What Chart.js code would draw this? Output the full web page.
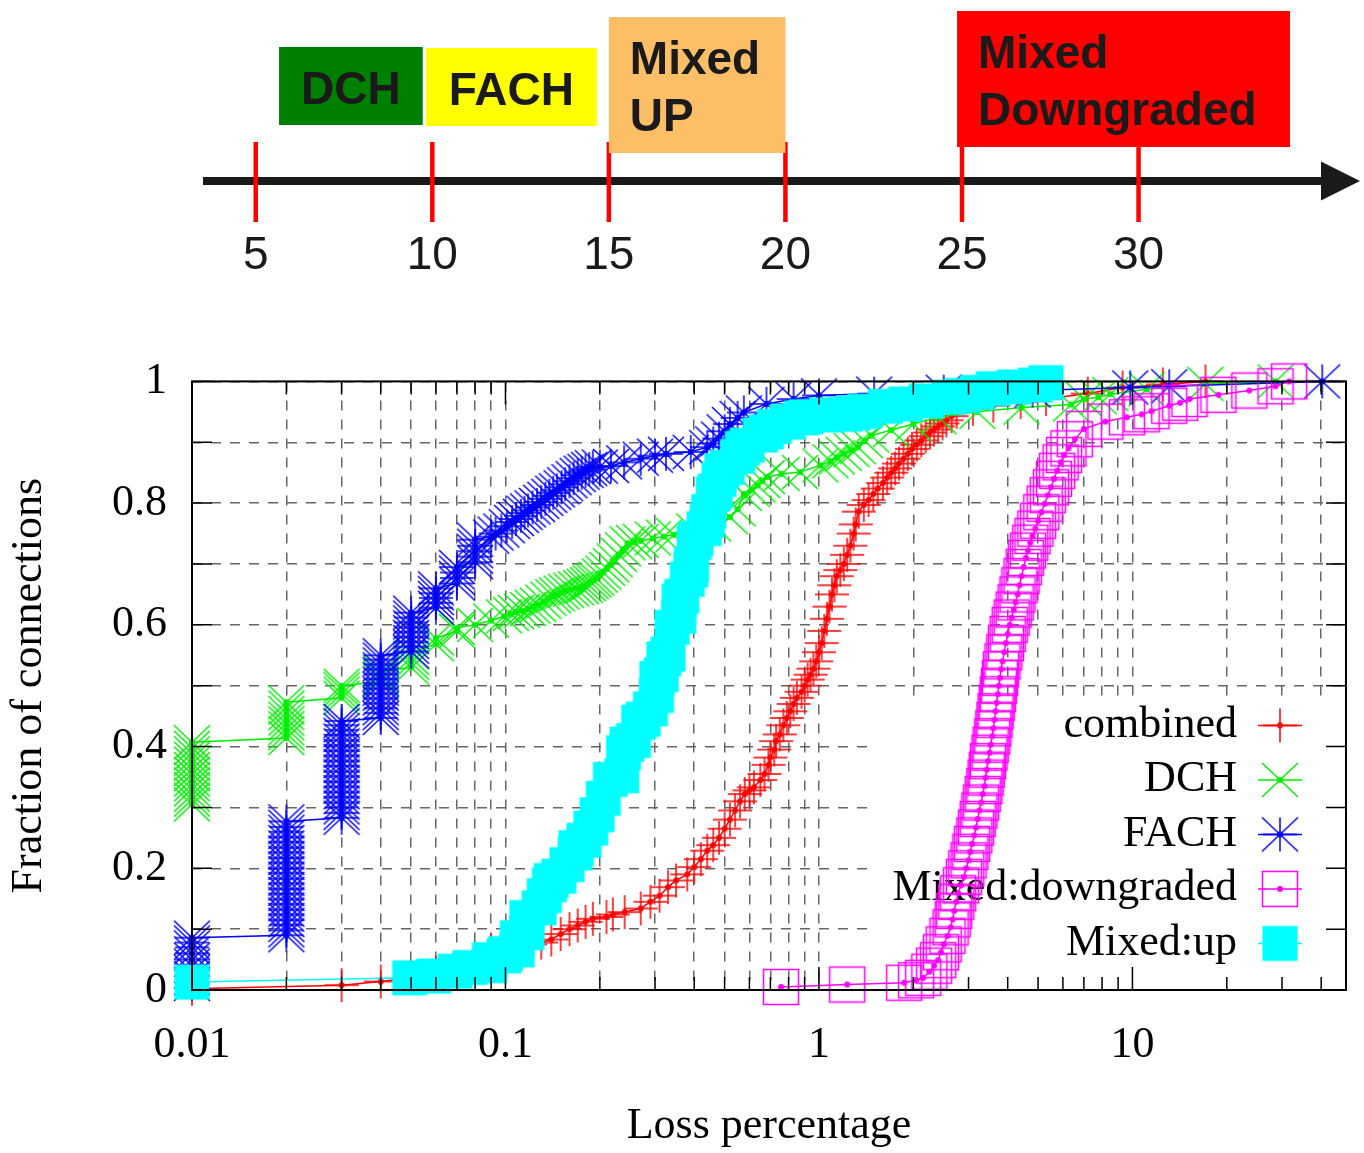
<!DOCTYPE html>
<html>
<head>
<meta charset="utf-8">
<title>Loss percentage CDF</title>
<script src="https://cdn.jsdelivr.net/npm/chart.js@4.4.1/dist/chart.umd.min.js"></script>
<style>
  html, body { margin: 0; padding: 0; background: #fff; }
  #wrap { position: relative; width: 1364px; height: 1153px; }
  #timeline { position: absolute; left: 0; top: 0; }
  #cdf { position: absolute; left: 0; top: 330px; }
</style>
</head>
<body>
<div id="wrap">
  <canvas id="timeline" width="1364" height="330"></canvas>
  <canvas id="cdf" width="1364" height="823"></canvas>
</div>
<script>
// --- timeline (upper drawing) ---
const timelineTicks = [5, 10, 15, 20, 25, 30];
const timelineTickLabels = ['5', '10', '15', '20', '25', '30'];
const stateNames = [['DCH'], ['FACH'], ['Mixed', 'UP'], ['Mixed', 'Downgraded']];
const stateStart = [5.66, 9.82, 15.0, 24.86];
const stateEnd = [9.73, 14.66, 20.0, 34.29];

// --- CDF of loss percentage ---
const seriesNames = ['combined', 'DCH', 'FACH', 'Mixed:downgraded', 'Mixed:up'];

const combinedLoss = [
  0.01, 0.03, 0.04, 0.05, 0.06, 0.07, 0.08, 0.09, 0.1, 0.11,
  0.12, 0.13, 0.14, 0.15, 0.16, 0.17, 0.18, 0.19, 0.21, 0.22,
  0.24, 0.27, 0.29, 0.31, 0.33, 0.35, 0.38, 0.4, 0.42, 0.44,
  0.46, 0.48, 0.5, 0.52, 0.54, 0.56, 0.58, 0.6, 0.62, 0.65,
  0.67, 0.69, 0.7, 0.72, 0.73, 0.75, 0.77, 0.79, 0.81, 0.83,
  0.85, 0.88, 0.9, 0.92, 0.94, 0.96, 0.98, 1.0, 1.02, 1.04,
  1.06, 1.08, 1.1, 1.12, 1.14, 1.17, 1.2, 1.23, 1.26, 1.29,
  1.31, 1.34, 1.39, 1.44, 1.49, 1.54, 1.6, 1.65, 1.7, 1.75,
  1.8, 1.86, 1.92, 1.98, 2.05, 2.12, 2.19, 2.26, 2.33, 2.4,
  2.48, 2.55, 2.65, 2.75, 3.1, 3.6, 4.4, 5.3, 7.2, 9.3,
  12.5, 17.1];
const combinedFrac = [
  0.002, 0.008, 0.014, 0.02, 0.028, 0.037, 0.05, 0.065, 0.07, 0.072,
  0.075, 0.078, 0.083, 0.092, 0.1, 0.106, 0.112, 0.117, 0.12, 0.124,
  0.128, 0.134, 0.145, 0.155, 0.169, 0.18, 0.19, 0.202, 0.215, 0.229,
  0.238, 0.25, 0.265, 0.28, 0.295, 0.31, 0.322, 0.328, 0.333, 0.345,
  0.355, 0.37, 0.382, 0.395, 0.409, 0.42, 0.435, 0.447, 0.458, 0.47,
  0.48, 0.49, 0.5, 0.51, 0.518, 0.528, 0.54, 0.555, 0.57, 0.59,
  0.61, 0.63, 0.65, 0.665, 0.68, 0.69, 0.7, 0.715, 0.73, 0.75,
  0.765, 0.786, 0.797, 0.805, 0.815, 0.824, 0.833, 0.842, 0.85, 0.857,
  0.865, 0.873, 0.881, 0.889, 0.896, 0.903, 0.91, 0.916, 0.921, 0.926,
  0.931, 0.936, 0.943, 0.95, 0.955, 0.96, 0.966, 0.971, 0.98, 0.99,
  0.995, 1.0];

const dchLoss = [
  0.01, 0.01, 0.01, 0.01, 0.01, 0.01, 0.01, 0.01, 0.01, 0.01, 0.01, 0.01, 0.01,
  0.02, 0.02, 0.02, 0.02, 0.02, 0.02, 0.02, 0.02,
  0.03, 0.03, 0.03, 0.03, 0.04, 0.04, 0.04, 0.05, 0.05, 0.05, 0.05,
  0.06, 0.06, 0.07, 0.07, 0.08, 0.09,
  0.099, 0.104, 0.108, 0.113, 0.118, 0.122, 0.127, 0.132, 0.137, 0.142,
  0.146, 0.151, 0.156, 0.162, 0.168, 0.174, 0.179, 0.183, 0.187, 0.191,
  0.195, 0.2, 0.205, 0.211, 0.217, 0.223, 0.23, 0.237, 0.245, 0.257,
  0.27, 0.295, 0.32, 0.344, 0.4, 0.46, 0.52, 0.55, 0.576, 0.61,
  0.637, 0.66, 0.682, 0.76, 0.87, 1.01, 1.087, 1.14, 1.2, 1.27,
  1.33, 1.4, 1.47, 1.7, 2.0, 2.41, 3.2, 4.43, 6.37, 7.0,
  7.8, 8.5, 11.1, 17.1, 28.6];
const dchFrac = [
  0.305, 0.313, 0.321, 0.33, 0.338, 0.346, 0.355, 0.363, 0.372, 0.38, 0.389, 0.398, 0.407,
  0.414, 0.422, 0.43, 0.438, 0.446, 0.455, 0.464, 0.473,
  0.48, 0.487, 0.494, 0.5, 0.507, 0.515, 0.523, 0.53, 0.538, 0.546, 0.555,
  0.568, 0.578, 0.59, 0.595, 0.6, 0.607,
  0.614, 0.618, 0.621, 0.623, 0.626, 0.63, 0.633, 0.638, 0.643, 0.647,
  0.65, 0.653, 0.656, 0.658, 0.66, 0.662, 0.664, 0.667, 0.67, 0.673,
  0.676, 0.681, 0.686, 0.692, 0.698, 0.706, 0.715, 0.724, 0.734, 0.736,
  0.738, 0.742, 0.745, 0.748, 0.755, 0.765, 0.777, 0.79, 0.815, 0.822,
  0.829, 0.836, 0.843, 0.848, 0.851, 0.862, 0.869, 0.875, 0.881, 0.887,
  0.892, 0.902, 0.911, 0.92, 0.93, 0.941, 0.95, 0.957, 0.962, 0.971,
  0.974, 0.979, 0.987, 0.996, 1.0];

const fachLoss = [
  0.01, 0.01, 0.01, 0.01, 0.01, 0.01, 0.01, 0.01, 0.01,
  0.02, 0.02, 0.02, 0.02, 0.02, 0.02, 0.02, 0.02, 0.02, 0.02, 0.02, 0.02,
  0.02, 0.02, 0.02, 0.02, 0.02, 0.02, 0.02, 0.02, 0.02, 0.02, 0.02,
  0.03, 0.03, 0.03, 0.03, 0.03, 0.03, 0.03, 0.03, 0.03, 0.03,
  0.03, 0.03, 0.03, 0.03, 0.03, 0.03, 0.03, 0.03, 0.03, 0.03,
  0.04, 0.04, 0.04, 0.04, 0.04, 0.04, 0.04, 0.04, 0.04, 0.04, 0.04, 0.04, 0.04, 0.04,
  0.05, 0.05, 0.05, 0.05, 0.05, 0.05, 0.05, 0.05, 0.05,
  0.06, 0.06, 0.06, 0.06, 0.06, 0.07, 0.07, 0.07, 0.07,
  0.08, 0.08, 0.08, 0.08, 0.08,
  0.09, 0.093, 0.097, 0.101, 0.105, 0.108, 0.112, 0.115, 0.118, 0.122,
  0.126, 0.13, 0.134, 0.138, 0.142, 0.146, 0.151, 0.155, 0.16, 0.165,
  0.17, 0.175, 0.18, 0.185, 0.19,
  0.2, 0.217, 0.239, 0.27, 0.3, 0.325, 0.39, 0.44, 0.46, 0.48,
  0.5, 0.52, 0.55, 0.576, 0.68, 0.83, 1.0, 1.5, 2.5, 4.8,
  9.84, 13.1, 40.3];
const fachFrac = [
  0.01, 0.02, 0.03, 0.04, 0.05, 0.06, 0.07, 0.078, 0.086,
  0.09, 0.098, 0.107, 0.115, 0.124, 0.132, 0.141, 0.149, 0.158, 0.166, 0.175, 0.183,
  0.192, 0.2, 0.209, 0.217, 0.226, 0.234, 0.243, 0.251, 0.26, 0.268, 0.277,
  0.283, 0.291, 0.3, 0.308, 0.317, 0.325, 0.334, 0.342, 0.351, 0.359,
  0.368, 0.376, 0.385, 0.393, 0.402, 0.41, 0.419, 0.427, 0.435, 0.442,
  0.447, 0.455, 0.463, 0.471, 0.479, 0.487, 0.495, 0.503, 0.511, 0.519, 0.527, 0.535, 0.543, 0.55,
  0.556, 0.564, 0.572, 0.58, 0.588, 0.596, 0.604, 0.612, 0.62,
  0.628, 0.636, 0.644, 0.652, 0.66, 0.668, 0.677, 0.686, 0.695,
  0.703, 0.712, 0.721, 0.73, 0.74,
  0.745, 0.75, 0.755, 0.762, 0.769, 0.774, 0.779, 0.784, 0.788, 0.793,
  0.797, 0.802, 0.807, 0.812, 0.817, 0.821, 0.826, 0.831, 0.836, 0.841,
  0.846, 0.85, 0.853, 0.856, 0.859,
  0.86, 0.861, 0.867, 0.873, 0.878, 0.881, 0.884, 0.892, 0.898, 0.906,
  0.918, 0.93, 0.94, 0.949, 0.963, 0.971, 0.977, 0.98, 0.983, 0.985,
  0.99, 0.992, 1.0];

const downLoss = [
  0.757, 1.23, 1.87, 2.04, 2.15, 2.25, 2.33, 2.4, 2.45, 2.5,
  2.57, 2.63, 2.67, 2.7, 2.74, 2.78, 2.84, 2.9, 2.95, 3.0,
  3.04, 3.08, 3.13, 3.17, 3.21, 3.25, 3.29, 3.33, 3.37, 3.4,
  3.43, 3.46, 3.5, 3.53, 3.57, 3.6, 3.63, 3.66, 3.69, 3.72,
  3.75, 3.78, 3.81, 3.85, 3.9, 3.95, 4.0, 4.06, 4.12, 4.18,
  4.24, 4.3, 4.36, 4.43, 4.5, 4.57, 4.64, 4.72, 4.8, 4.9,
  5.0, 5.12, 5.25, 5.37, 5.5, 5.62, 5.75, 5.9, 6.05, 6.25,
  6.55, 7.0, 8.2, 9.6, 10.7, 11.5, 13.1, 14.2, 15.2, 18.8,
  23.6, 28.6, 31.6];
const downFrac = [
  0.005, 0.009, 0.012, 0.016, 0.02, 0.03, 0.04, 0.049, 0.062, 0.075,
  0.089, 0.103, 0.116, 0.13, 0.145, 0.159, 0.172, 0.186, 0.2, 0.213,
  0.227, 0.24, 0.254, 0.267, 0.281, 0.295, 0.308, 0.322, 0.335, 0.349,
  0.362, 0.376, 0.39, 0.403, 0.417, 0.43, 0.444, 0.458, 0.472, 0.486,
  0.5, 0.513, 0.527, 0.54, 0.555, 0.57, 0.585, 0.6, 0.612, 0.625,
  0.637, 0.65, 0.665, 0.68, 0.695, 0.71, 0.722, 0.735, 0.746, 0.758,
  0.771, 0.785, 0.799, 0.813, 0.826, 0.84, 0.853, 0.867, 0.879, 0.89,
  0.905, 0.922, 0.934, 0.941, 0.946, 0.951, 0.96, 0.965, 0.971, 0.978,
  0.985, 0.992, 1.0];

const upLoss = [
  0.01, 0.0495, 0.059, 0.069, 0.077, 0.089, 0.089, 0.099, 0.1, 0.109,
  0.109, 0.117, 0.117, 0.128, 0.133, 0.138, 0.14, 0.148, 0.157, 0.167,
  0.168, 0.178, 0.187, 0.196, 0.205, 0.216, 0.235, 0.238, 0.244, 0.256,
  0.266, 0.275, 0.29, 0.303, 0.304, 0.314, 0.32, 0.33, 0.34, 0.357,
  0.358, 0.365, 0.38, 0.39, 0.392, 0.4, 0.405, 0.43, 0.44, 0.445,
  0.46, 0.467, 0.48, 0.49, 0.51, 0.55, 0.57, 0.59, 0.65, 0.68,
  0.72, 0.79, 0.8, 0.88, 0.91, 1.06, 1.21, 1.29, 1.4, 1.63,
  1.89, 2.2, 2.6, 2.88, 3.2, 3.6, 4.2, 4.9, 5.3];
const upFrac = [
  0.013, 0.02, 0.023, 0.031, 0.037, 0.04, 0.05, 0.056, 0.06, 0.066,
  0.086, 0.094, 0.119, 0.135, 0.155, 0.173, 0.18, 0.187, 0.206, 0.225,
  0.234, 0.246, 0.266, 0.288, 0.315, 0.346, 0.352, 0.39, 0.404, 0.41,
  0.44, 0.445, 0.462, 0.484, 0.512, 0.518, 0.544, 0.552, 0.596, 0.614,
  0.639, 0.647, 0.675, 0.69, 0.7, 0.735, 0.742, 0.758, 0.772, 0.786,
  0.815, 0.82, 0.839, 0.853, 0.859, 0.877, 0.89, 0.895, 0.912, 0.917,
  0.926, 0.933, 0.935, 0.94, 0.942, 0.945, 0.946, 0.948, 0.951, 0.959,
  0.963, 0.968, 0.974, 0.977, 0.982, 0.988, 0.991, 0.994, 0.998];

const xTickLabels = ['0.01', '0.1', '1', '10'];
const yTickLabels = ['0', '0.2', '0.4', '0.6', '0.8', '1'];

// ---------------------------------------------------------------
const SANS = '"Liberation Sans", Arial, sans-serif';
const SERIF = '"Liberation Serif", "Times New Roman", serif';

const toPoints = (xs, ys) => xs.map((v, i) => ({ x: v, y: ys[i] }));

// gnuplot-like point symbols, each with the little dot in the middle
function makeMarker(shape, color) {
  const c = document.createElement('canvas');
  c.width = 40; c.height = 40;
  const g = c.getContext('2d');
  const m = 20;
  g.strokeStyle = color;
  g.fillStyle = color;
  g.lineWidth = 1.5;
  if (shape === 'fillbox') {
    g.fillRect(m - 17.5, m - 17.5, 35, 35);
    return c;
  }
  g.beginPath();
  if (shape === 'plus' || shape === 'star') {
    g.moveTo(m - 17, m); g.lineTo(m + 17, m);
    g.moveTo(m, m - 17); g.lineTo(m, m + 17);
  }
  if (shape === 'cross' || shape === 'star') {
    g.moveTo(m - 18, m - 17); g.lineTo(m + 18, m + 17);
    g.moveTo(m - 18, m + 17); g.lineTo(m + 18, m - 17);
  }
  if (shape === 'box') g.rect(m - 17.5, m - 17.5, 35, 35);
  g.stroke();
  g.beginPath();
  g.arc(m, m, 3, 0, Math.PI * 2);
  g.fill();
  return c;
}

const seriesColors = ['#ff0000', '#00ee00', '#0000ff', '#ff00ff', '#00ffff'];
const seriesShapes = ['plus', 'cross', 'star', 'box', 'fillbox'];
const markers = seriesShapes.map((s, i) => makeMarker(s, seriesColors[i]));

// ---------------------------------------------------------------
// upper drawing: state boxes over a time arrow
const boxLayout = [
  { fill: '#008000', top: 47, bottom: 125 },
  { fill: '#ffff00', top: 48, bottom: 126 },
  { fill: '#fdbf66', top: 17, bottom: 153 },
  { fill: '#ff0000', top: 11, bottom: 147 }
];

const timelineDecor = {
  id: 'timelineDecor',
  afterDraw(chart) {
    const ctx = chart.ctx;
    const xs = chart.scales.x;
    const axisY = xs.top;
    ctx.save();
    // red marks across the arrow
    ctx.strokeStyle = '#ff0000';
    ctx.lineWidth = 4.5;
    xs.ticks.forEach(t => {
      const px = xs.getPixelForValue(t.value);
      ctx.beginPath();
      ctx.moveTo(px, axisY - 39);
      ctx.lineTo(px, axisY + 41);
      ctx.stroke();
    });
    // arrow head
    ctx.fillStyle = '#1a1a1a';
    ctx.beginPath();
    ctx.moveTo(xs.right - 4, axisY - 19.5);
    ctx.lineTo(xs.right + 35, axisY);
    ctx.lineTo(xs.right - 4, axisY + 19.5);
    ctx.closePath();
    ctx.fill();
    // state boxes
    ctx.font = 'bold 46px ' + SANS;
    ctx.textBaseline = 'alphabetic';
    stateNames.forEach((lines, i) => {
      const st = boxLayout[i];
      const x0 = xs.getPixelForValue(stateStart[i]);
      const x1 = xs.getPixelForValue(stateEnd[i]);
      ctx.fillStyle = st.fill;
      ctx.fillRect(x0, st.top, x1 - x0, st.bottom - st.top);
      ctx.fillStyle = '#1a1a1a';
      lines.forEach((txt, j) => {
        const y = st.top + 57 + j * 57;
        if (lines.length === 1) {
          ctx.textAlign = 'center';
          ctx.fillText(txt, (x0 + x1) / 2, y);
        } else {
          ctx.textAlign = 'left';
          ctx.fillText(txt, x0 + 21, y);
        }
      });
    });
    ctx.restore();
  }
};

new Chart(document.getElementById('timeline'), {
  type: 'scatter',
  data: { datasets: [] },
  options: {
    responsive: false,
    animation: false,
    layout: { padding: { left: 207, right: 39, top: 0, bottom: 0 } },
    plugins: { legend: { display: false }, tooltip: { enabled: false } },
    scales: {
      x: {
        type: 'linear',
        min: 3.62,
        max: 35.28,
        afterBuildTicks: s => { s.ticks = timelineTicks.map(v => ({ value: v })); },
        afterFit: s => { s.height = 149; },
        grid: { display: false, drawTicks: false },
        border: { display: true, color: '#1a1a1a', width: 8 },
        ticks: {
          autoSkip: false,
          maxRotation: 0,
          padding: 48,
          color: '#1a1a1a',
          font: { family: SANS, size: 46 },
          callback: (v, i) => timelineTickLabels[i]
        }
      },
      y: { display: false, min: 0, max: 1 }
    }
  },
  plugins: [timelineDecor]
});

// ---------------------------------------------------------------
// lower chart: CDF with log x axis, gnuplot look
const keyAndFrame = {
  id: 'keyAndFrame',
  beforeDatasetsDraw(chart) {
    const { ctx, chartArea: a } = chart;
    ctx.save();
    // opaque key area (curves are drawn over it afterwards)
    ctx.fillStyle = '#fff';
    ctx.fillRect(a.right - 472, a.top + 316, 472, a.bottom - a.top - 316);
    ctx.font = '44px ' + SERIF;
    ctx.textAlign = 'right';
    ctx.textBaseline = 'middle';
    seriesNames.forEach((name, i) => {
      const y = a.top + 344 + i * 54.5;
      ctx.fillStyle = '#000';
      ctx.fillText(name, a.right - 109, y);
      ctx.strokeStyle = seriesColors[i];
      ctx.lineWidth = 1.5;
      ctx.beginPath();
      ctx.moveTo(a.right - 88, y);
      ctx.lineTo(a.right - 44, y);
      ctx.stroke();
      const mk = markers[i];
      ctx.drawImage(mk, a.right - 66 - mk.width / 2, y - mk.height / 2);
    });
    ctx.restore();
  },
  afterDraw(chart) {
    const { ctx, chartArea: a, scales: { x, y } } = chart;
    ctx.save();
    ctx.strokeStyle = '#000';
    ctx.lineWidth = 1.5;
    ctx.beginPath();
    y.ticks.forEach(t => {
      const py = y.getPixelForValue(t.value);
      ctx.moveTo(a.left, py); ctx.lineTo(a.left + 20, py);
      ctx.moveTo(a.right, py); ctx.lineTo(a.right - 20, py);
    });
    x.ticks.forEach(t => {
      const px = x.getPixelForValue(t.value);
      const len = t.label ? 23 : 13;
      ctx.moveTo(px, a.bottom); ctx.lineTo(px, a.bottom - len);
      ctx.moveTo(px, a.top); ctx.lineTo(px, a.top + len);
    });
    ctx.stroke();
    ctx.lineWidth = 2;
    ctx.strokeRect(a.left, a.top, a.right - a.left, a.bottom - a.top);
    ctx.restore();
  }
};

const seriesData = [
  toPoints(combinedLoss, combinedFrac),
  toPoints(dchLoss, dchFrac),
  toPoints(fachLoss, fachFrac),
  toPoints(downLoss, downFrac),
  toPoints(upLoss, upFrac)
];

const datasets = seriesNames.map((name, i) => ({
  label: name,
  data: seriesData[i],
  showLine: true,
  borderColor: seriesColors[i],
  backgroundColor: seriesColors[i],
  borderWidth: 1.5,
  pointStyle: markers[i],
  pointRadius: 18,
  pointBorderWidth: 0,
  pointHoverRadius: 18,
  clip: false,
  order: seriesNames.length - i
}));

const findLabel = (labels, v) => {
  const hit = labels.find(l => Math.abs(parseFloat(l) - v) < 1e-9 * Math.max(1, v) + 1e-9);
  return hit === undefined ? '' : hit;
};

new Chart(document.getElementById('cdf'), {
  type: 'scatter',
  data: { datasets },
  options: {
    responsive: false,
    animation: false,
    layout: { padding: { top: 49, right: 14, left: 0, bottom: 0 } },
    plugins: { legend: { display: false }, tooltip: { enabled: false } },
    scales: {
      x: {
        type: 'logarithmic',
        min: 0.01,
        max: 48,
        afterBuildTicks: s => {
          const t = [];
          for (let e = -2; e <= 1; e++) {
            for (let m = 1; m <= 9; m++) {
              const v = m * Math.pow(10, e);
              if (v <= s.max) t.push({ value: v });
            }
          }
          s.ticks = t;
        },
        afterFit: s => { s.height = 163; },
        grid: { color: '#666', lineWidth: 1.5, drawTicks: false },
        border: { display: false, dash: [10, 9] },
        ticks: {
          autoSkip: false,
          maxRotation: 0,
          padding: 29,
          color: '#000',
          font: { family: SERIF, size: 44 },
          callback: v => findLabel(xTickLabels, v)
        },
        title: {
          display: true,
          text: 'Loss percentage',
          color: '#000',
          font: { family: SERIF, size: 44 },
          padding: { top: 0, bottom: 0 }
        }
      },
      y: {
        type: 'linear',
        min: 0,
        max: 1,
        afterBuildTicks: s => {
          s.ticks = [];
          for (let i = 0; i <= 10; i++) s.ticks.push({ value: i / 10 });
        },
        afterFit: s => { s.width = 192; },
        grid: { color: '#666', lineWidth: 1.5, drawTicks: false },
        border: { display: false, dash: [10, 9] },
        ticks: {
          autoSkip: false,
          padding: 25,
          color: '#000',
          font: { family: SERIF, size: 44 },
          callback: v => findLabel(yTickLabels, v)
        },
        title: {
          display: true,
          text: 'Fraction of connections',
          color: '#000',
          font: { family: SERIF, size: 44 },
          padding: { top: 3, bottom: 0 }
        }
      }
    }
  },
  plugins: [keyAndFrame]
});
</script>
</body>
</html>
